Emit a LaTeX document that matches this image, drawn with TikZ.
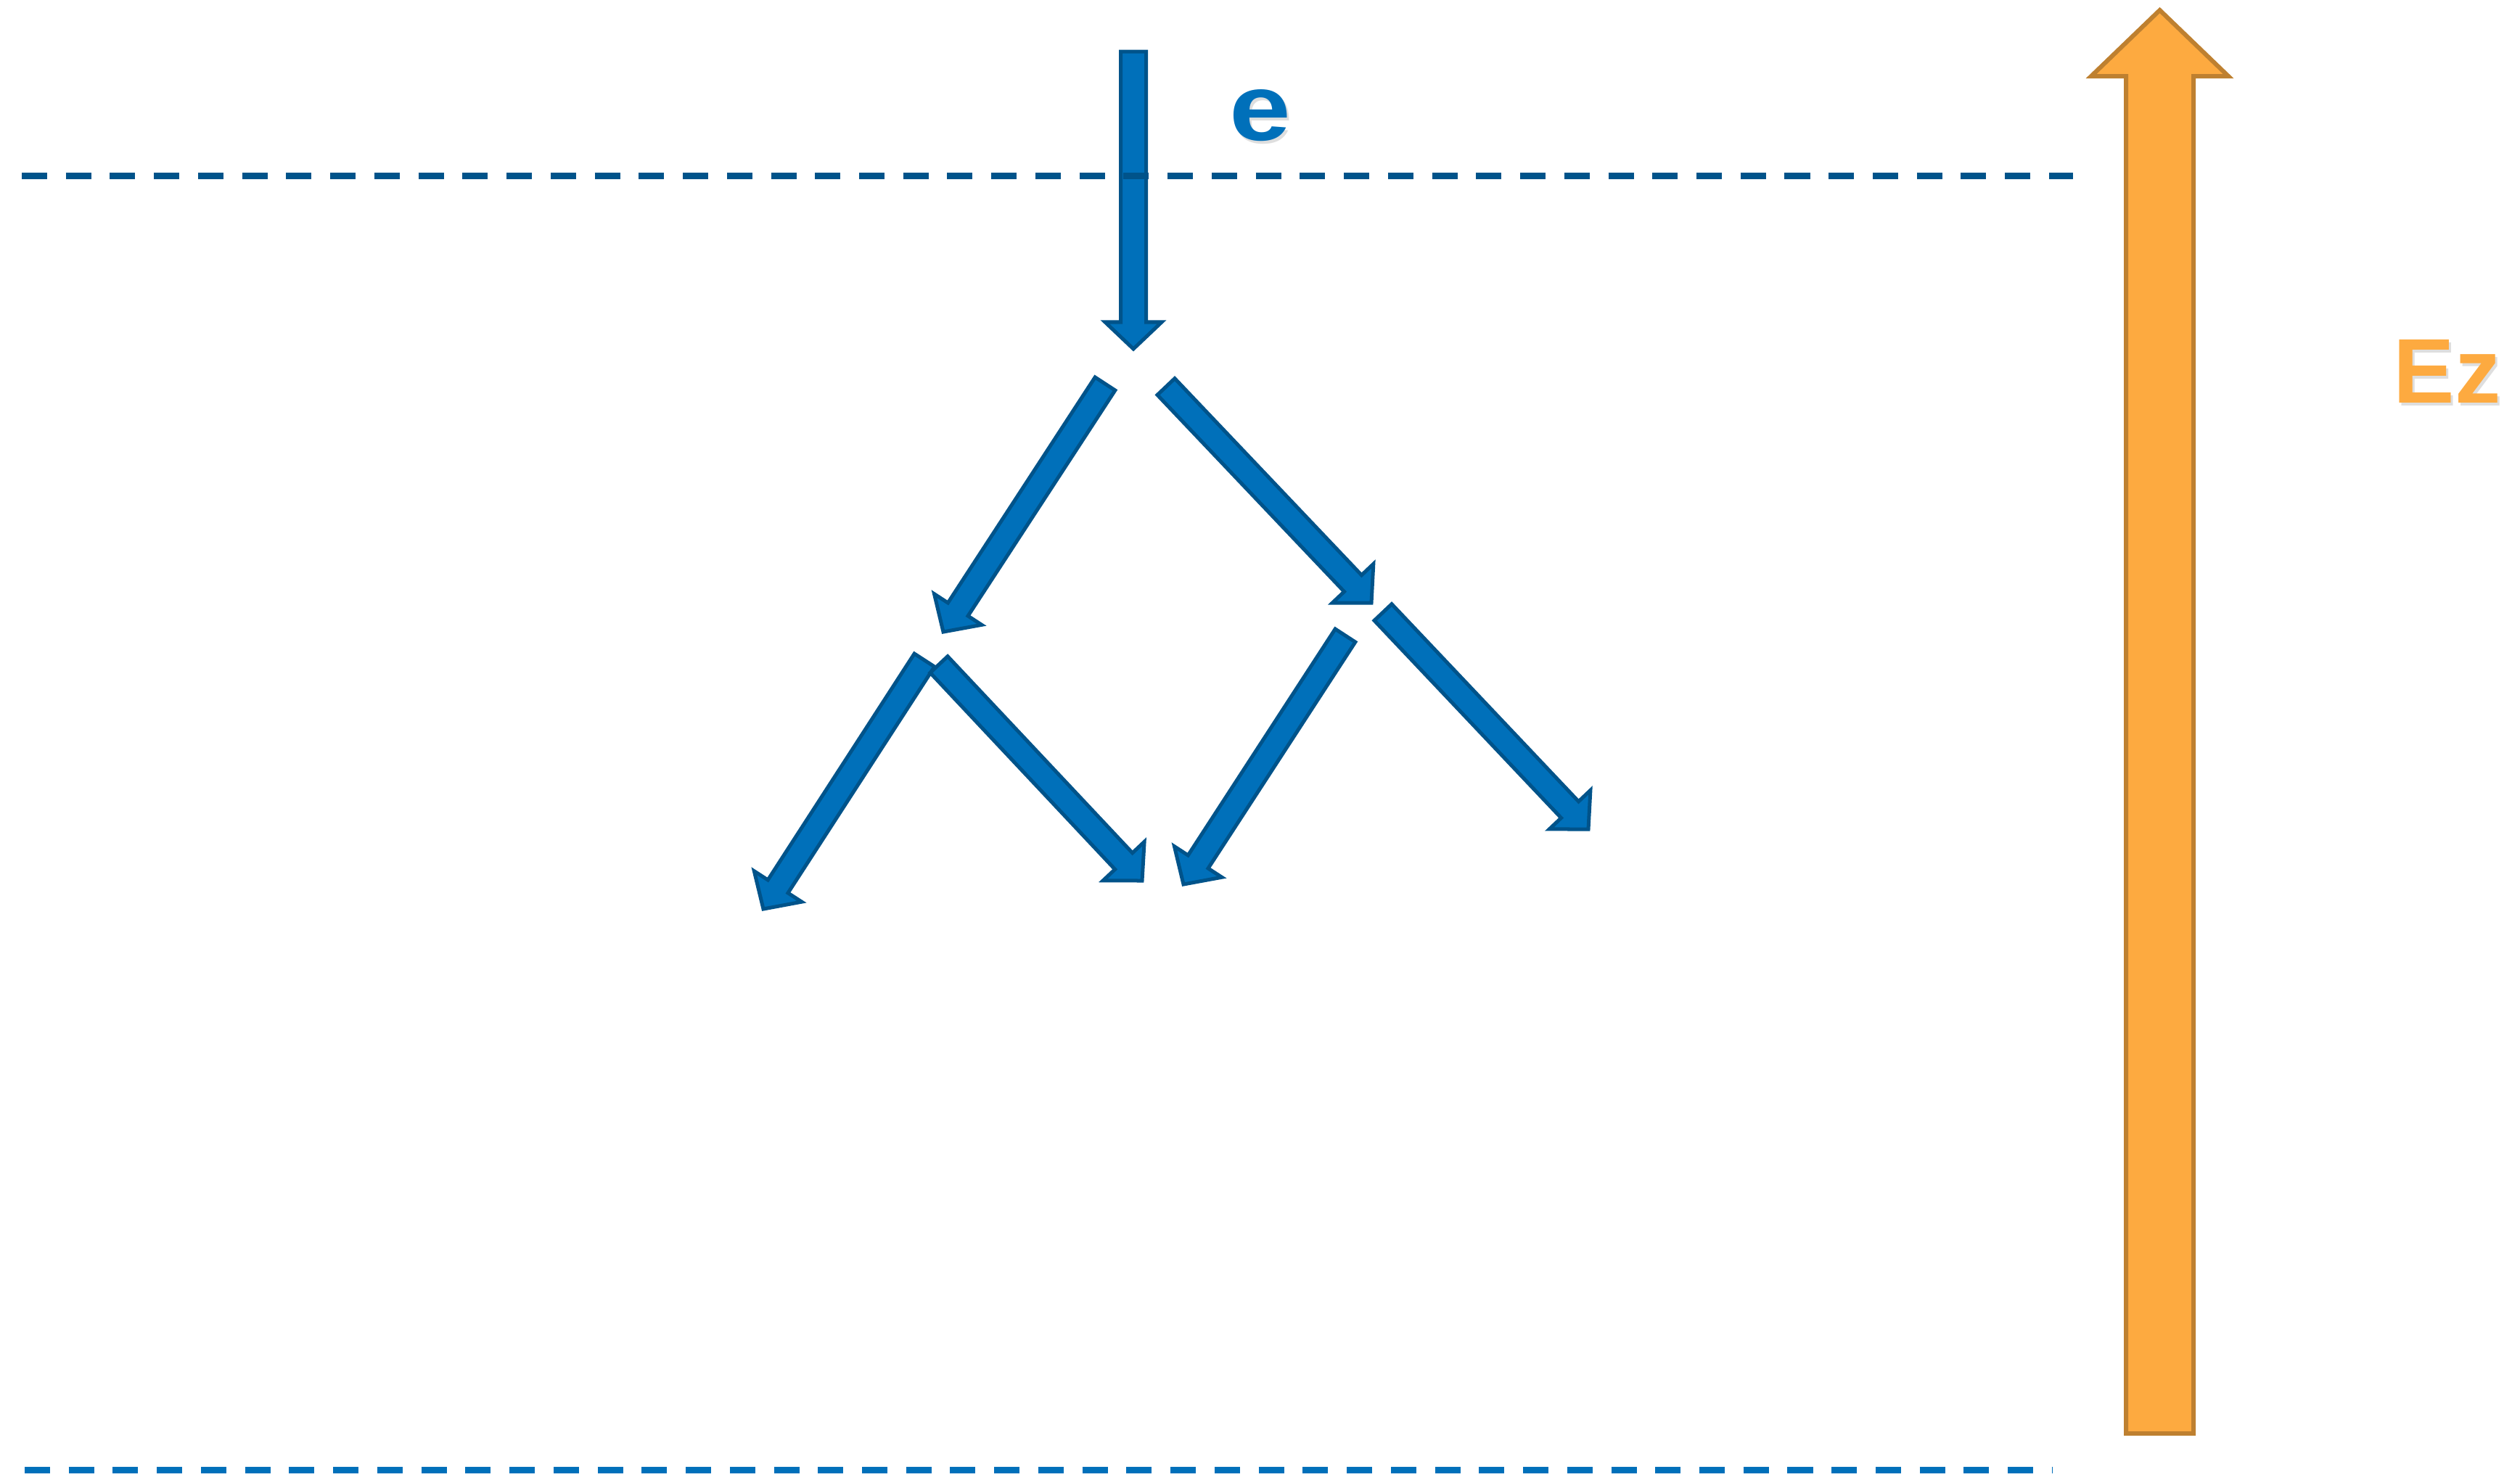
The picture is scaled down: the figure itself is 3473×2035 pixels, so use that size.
\documentclass[tikz,border=0pt]{standalone}
\usepackage{fontspec}
\usepackage{graphicx}
\setmainfont{Liberation Sans}
\usetikzlibrary{calc}
\definecolor{bluefill}{RGB}{0,112,186}
\definecolor{bluedark}{RGB}{0,83,138}
\definecolor{orfill}{RGB}{253,170,64}
\definecolor{ordark}{RGB}{190,128,48}
% #1 style, #2 tail, #3 tip, #4 shaft half-width, #5 head half-width, #6 head length
\newcommand\fatarrow[6]{%
  \coordinate (fab) at ($(#3)!#6!(#2)$);
  \draw[#1] ($(#2)!#4!90:(#3)$) -- ($(fab)!#4!90:(#3)$) -- ($(fab)!#5!90:(#3)$)
    -- (#3) -- ($(fab)!#5!-90:(#3)$) -- ($(fab)!#4!-90:(#3)$) -- ($(#2)!#4!-90:(#3)$) -- cycle;
}
\tikzset{
  bluearrow/.style={fill=bluefill, draw=bluedark, line width=0.05cm, miter limit=10},
  orarrow/.style={fill=orfill, draw=ordark, line width=0.06cm, miter limit=10},
  dashline/.style={line width=0.09cm, dash pattern=on 0.35cm off 0.257cm, line cap=butt},
  lab/.style={inner sep=0pt, anchor=base west},
  shadowlab/.style={inner sep=0pt, anchor=base west, text=black, opacity=0.13}
}
\begin{document}
\begin{tikzpicture}[x=0.01cm, y=-0.01cm]
\useasboundingbox (0,0) rectangle (3473,2035);
% coordinates
\coordinate (v0) at (1562,71);
\coordinate (v1) at (1562,481);
\coordinate (a0) at (1523,529);
\coordinate (a1) at (1300,871);
\coordinate (b0) at (1607,533);
\coordinate (b1) at (1890,831);
\coordinate (c0) at (1274,910);
\coordinate (c1) at (1052,1253);
\coordinate (d0) at (1294,916);
\coordinate (d1) at (1574,1214);
\coordinate (e0) at (1854,876);
\coordinate (e1) at (1631,1219);
\coordinate (f0) at (1906,844);
\coordinate (f1) at (2189,1143);
\coordinate (o0) at (2976.5,1976);
\coordinate (o1) at (2976.5,14);
\coordinate (tl0) at (30,242.5);
\coordinate (tl1) at (2857,242.5);
\coordinate (bl0) at (34,2026.5);
\coordinate (bl1) at (2828,2026.5);
% incoming electron arrow
\fatarrow{bluearrow}{v0}{v1}{0.175cm}{0.39cm}{0.37cm}
% top dashed line
\draw[dashline, draw=bluedark] (tl0) -- (tl1);
% cascade arrows
\fatarrow{bluearrow}{a0}{a1}{0.165cm}{0.39cm}{0.37cm}
\fatarrow{bluearrow}{b0}{b1}{0.165cm}{0.39cm}{0.37cm}
\fatarrow{bluearrow}{c0}{c1}{0.165cm}{0.39cm}{0.37cm}
\fatarrow{bluearrow}{d0}{d1}{0.165cm}{0.39cm}{0.37cm}
\fatarrow{bluearrow}{e0}{e1}{0.165cm}{0.39cm}{0.37cm}
\fatarrow{bluearrow}{f0}{f1}{0.165cm}{0.39cm}{0.37cm}
% bottom dashed line
\draw[dashline, draw=bluefill] (bl0) -- (bl1);
% field arrow
\fatarrow{orarrow}{o0}{o1}{0.465cm}{0.945cm}{0.91cm}
% labels
\node[shadowlab, font=\fontsize{37}{40}\selectfont\bfseries] (eshadow) at (1697,197) {\scalebox{1.17}[1]{e}};
\node[lab, text=bluefill, font=\fontsize{37}{40}\selectfont\bfseries] (elab) at (1694,193) {\scalebox{1.17}[1]{e}};
\node[shadowlab, font=\fontsize{36}{40}\selectfont\bfseries] (ezshadow) at (3301,559) {Ez};
\node[lab, text=orfill, font=\fontsize{36}{40}\selectfont\bfseries] (ezlab) at (3298,555) {Ez};
\end{tikzpicture}
\end{document}
